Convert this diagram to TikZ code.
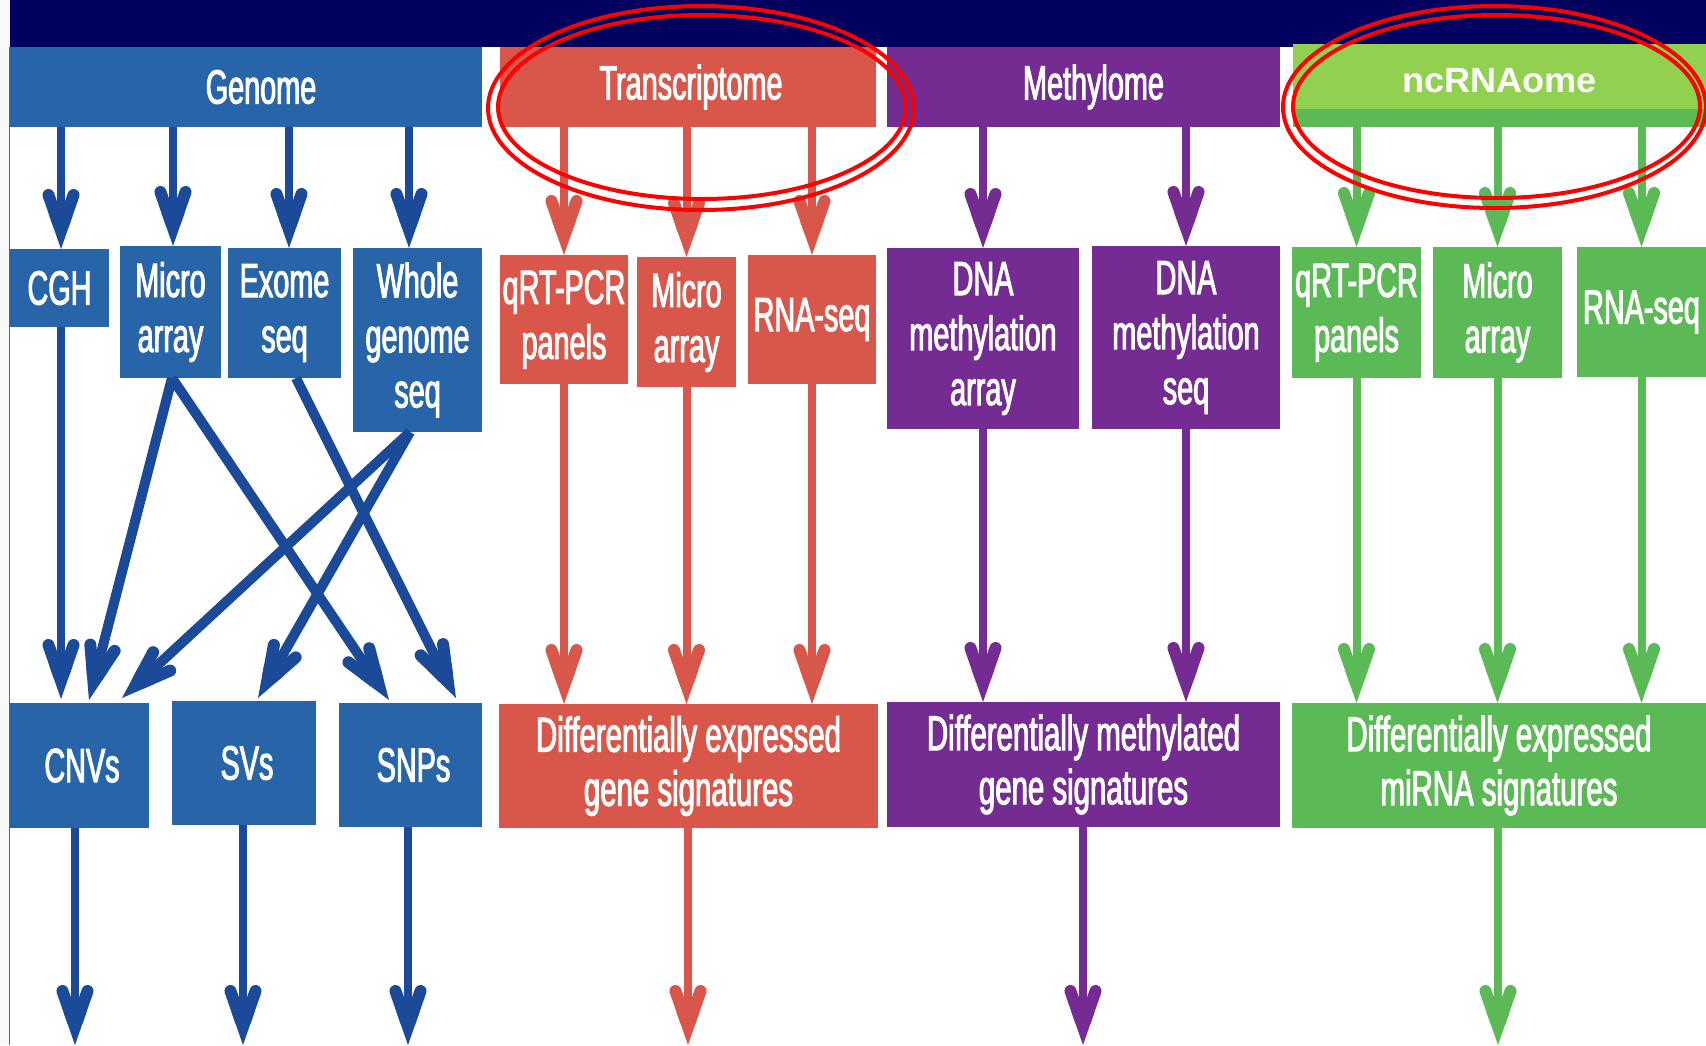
\documentclass[tikz,border=0pt]{standalone}
\usepackage{fontspec}
\setmainfont{Liberation Sans}[FakeStretch=0.6,FakeBold=2]
\newfontfamily\widefont{Liberation Sans}[FakeStretch=1.03]
\usetikzlibrary{arrows.meta}
\definecolor{navy}{RGB}{0,0,94}
\definecolor{gblue}{RGB}{40,101,168}
\definecolor{ablue}{RGB}{27,74,152}
\definecolor{tred}{RGB}{216,87,74}
\definecolor{mpurp}{RGB}{116,44,146}
\definecolor{lgreen}{RGB}{146,208,80}
\definecolor{dgreen}{RGB}{92,186,86}
\definecolor{edgeline}{RGB}{90,90,200}
\pgfdeclarearrow{
  name = RefHead,
  setup code = {
    \pgfarrowssettipend{0pt}
    \pgfarrowssetlineend{-30pt}
    \pgfarrowssetvisualbackend{-40pt}
    \pgfarrowssetbackend{-60pt}
    \pgfarrowshullpoint{0pt}{0pt}
    \pgfarrowshullpoint{-60pt}{19pt}
    \pgfarrowshullpoint{-60pt}{-19pt}
  },
  drawing code = {
    \pgfpathmoveto{\pgfpointorigin}
    \pgfpathlineto{\pgfpoint{-33pt}{11.55pt}}
    \pgfpathlineto{\pgfpoint{-33pt}{-11.55pt}}
    \pgfpathclose
    \pgfusepathqfill
    \pgfsetlinewidth{12pt}
    \pgfsetroundcap
    \pgfpathmoveto{\pgfpoint{-24pt}{2.04pt}}
    \pgfpathlineto{\pgfpoint{-54pt}{12.54pt}}
    \pgfpathmoveto{\pgfpoint{-24pt}{-2.04pt}}
    \pgfpathlineto{\pgfpoint{-54pt}{-12.54pt}}
    \pgfusepathqstroke
  }
}
\tikzset{
  box/.style={draw=none, inner sep=0pt, outer sep=0pt, anchor=north west, text=white, align=center, font=\fontsize{48}{55}\selectfont},
  bot/.style={box, font=\fontsize{49}{54}\selectfont},
  conn/.style={line width=8pt, -{RefHead}},
  barr/.style={conn, ablue},
  bdiag/.style={conn, ablue, line width=10pt},
  rarr/.style={conn, tred},
  parr/.style={conn, mpurp},
  garr/.style={conn, dgreen},
  ring/.style={draw=red, line width=4pt}
}
\begin{document}
\begin{tikzpicture}[x=1pt,y=-1pt]
\useasboundingbox (0,0) rectangle (1706,1045);
\fill[white] (0,0) rectangle (1706,1045);
\fill[gray!5] (0,0) rectangle (9,1045);
\draw[edgeline, line width=1pt] (9.5,47) -- (9.5,1045);
\fill[navy] (10,0) rectangle (1706,47);

% headers
\node[box, fill=gblue, minimum width=472pt, minimum height=80pt] (genome) at (10,47) {\hspace*{30pt}Genome};
\node[box, fill=tred, minimum width=376pt, minimum height=80pt] (transc) at (500,47) {\hspace*{6pt}Transcriptome};
\node[box, fill=mpurp, minimum width=393pt, minimum height=80pt] (methyl) at (887,47) {\hspace*{20pt}Methylome};
\node[box, fill=lgreen, minimum width=413pt, minimum height=73pt, font=\widefont\bfseries\fontsize{35}{40}\selectfont] (ncrna) at (1293,44) {ncRNAome};
\node[box, fill=dgreen, minimum width=413pt, minimum height=18pt] (ncstrip) at (1293,109) {};

% middle boxes
\node[box, fill=gblue, minimum width=99pt, minimum height=78pt] (cgh) at (10,249) {CGH};
\node[box, fill=gblue, minimum width=101pt, minimum height=132pt] (bmicro) at (120,246) {Micro\\array};
\node[box, fill=gblue, minimum width=113pt, minimum height=130pt] (exome) at (228,248) {Exome\\seq};
\node[box, fill=gblue, minimum width=129pt, minimum height=184pt] (wgs) at (353,248) {Whole\\genome\\seq};
\node[box, fill=tred, minimum width=128pt, minimum height=129pt] (rqrt) at (500,255) {qRT-PCR\\panels};
\node[box, fill=tred, minimum width=99pt, minimum height=130pt] (rmicro) at (637,257) {Micro\\array};
\node[box, fill=tred, minimum width=128pt, minimum height=129pt] (rrna) at (748,255) {RNA-seq};
\node[box, fill=mpurp, minimum width=192pt, minimum height=181pt] (dnaarr) at (887,248) {DNA\\methylation\\array};
\node[box, fill=mpurp, minimum width=188pt, minimum height=183pt] (dnaseq) at (1092,246) {DNA\\methylation\\seq};
\node[box, fill=dgreen, minimum width=129pt, minimum height=131pt] (gqrt) at (1292,247) {qRT-PCR\\panels};
\node[box, fill=dgreen, minimum width=129pt, minimum height=131pt] (gmicro) at (1433,247) {Micro\\array};
\node[box, fill=dgreen, minimum width=129pt, minimum height=130pt] (grna) at (1577,247) {RNA-seq};

% bottom boxes
\node[box, fill=gblue, minimum width=139pt, minimum height=125pt] (cnvs) at (10,703) {\hspace*{5pt}CNVs};
\node[box, fill=gblue, minimum width=144pt, minimum height=124pt] (svs) at (172,701) {\hspace*{6pt}SVs};
\node[box, fill=gblue, minimum width=143pt, minimum height=124pt] (snps) at (339,703) {\hspace*{6pt}SNPs};
\node[bot, fill=tred, minimum width=379pt, minimum height=124pt] (degene) at (499,704) {Differentially expressed\\gene signatures};
\node[bot, fill=mpurp, minimum width=393pt, minimum height=125pt] (dmgene) at (887,702) {Differentially methylated\\gene signatures};
\node[bot, fill=dgreen, minimum width=414pt, minimum height=125pt] (demirna) at (1292,703) {Differentially expressed\\miRNA signatures};

% helper coordinates
\coordinate (gx1) at (61,0);
\coordinate (gx2) at (173,0);
\coordinate (gx3) at (289,0);
\coordinate (gx4) at (409,0);
\coordinate (b1) at (75,1045);
\coordinate (b2) at (243,1045);
\coordinate (b3) at (408,1045);
\coordinate (rb) at (688,1045);
\coordinate (pb) at (1083,1045);
\coordinate (gb) at (1498,1045);

% header -> middle
\draw[barr] (genome.south -| gx1) -- (cgh.north -| gx1);
\draw[barr] (genome.south -| gx2) -- (bmicro.north -| gx2);
\draw[barr] (genome.south -| gx3) -- (exome.north -| gx3);
\draw[barr] (genome.south -| gx4) -- (wgs.north -| gx4);
\draw[rarr] (transc.south -| rqrt.north) -- (rqrt.north);
\draw[rarr] (transc.south -| rmicro.north) -- (rmicro.north);
\draw[rarr] (transc.south -| rrna.north) -- (rrna.north);
\draw[parr] (methyl.south -| dnaarr.north) -- (dnaarr.north);
\draw[parr] (methyl.south -| dnaseq.north) -- (dnaseq.north);
\draw[garr] (ncstrip.south -| gqrt.north) -- (gqrt.north);
\draw[garr] (ncstrip.south -| gmicro.north) -- (gmicro.north);
\draw[garr] (ncstrip.south -| grna.north) -- (grna.north);

% middle -> bottom (genome)
\draw[barr] (cgh.south -| gx1) -- ([yshift=4pt]cnvs.north -| gx1);
\draw[bdiag] ([xshift=1.5pt]bmicro.south) -- ([xshift=9.5pt,yshift=3pt]cnvs.north);
\draw[bdiag] ([xshift=-7.5pt]wgs.south) -- ([xshift=42.5pt,yshift=5pt]cnvs.north);
\draw[bdiag] ([xshift=-7.5pt]wgs.south) -- ([xshift=14pt,yshift=3pt]svs.north);
\draw[bdiag] ([xshift=1.5pt]bmicro.south) -- ([xshift=-21.5pt,yshift=3pt]snps.north);
\draw[bdiag] ([xshift=11.5pt]exome.south) -- ([xshift=45.5pt,yshift=5pt]snps.north);

% middle -> bottom (others)
\draw[rarr] (rqrt.south) -- (rqrt.south |- degene.north);
\draw[rarr] (rmicro.south) -- (rmicro.south |- degene.north);
\draw[rarr] (rrna.south) -- (rrna.south |- degene.north);
\draw[parr] (dnaarr.south) -- (dnaarr.south |- dmgene.north);
\draw[parr] (dnaseq.south) -- (dnaseq.south |- dmgene.north);
\draw[garr] (gqrt.south) -- (gqrt.south |- demirna.north);
\draw[garr] (gmicro.south) -- (gmicro.south |- demirna.north);
\draw[garr] (grna.south) -- (grna.south |- demirna.north);

% bottom outgoing
\draw[barr] (cnvs.south -| b1) -- (b1);
\draw[barr] (svs.south -| b2) -- (b2);
\draw[barr] (snps.south -| b3) -- (b3);
\draw[rarr] (degene.south -| rb) -- (rb);
\draw[parr] (dmgene.south -| pb) -- (pb);
\draw[garr] (demirna.south -| gb) -- (gb);

% red double ellipses
\draw[ring] (701,108) ellipse [x radius=213pt, y radius=102pt];
\draw[ring] (702,107) ellipse [x radius=204pt, y radius=92pt];
\draw[ring] (1494.5,107) ellipse [x radius=211.5pt, y radius=101pt];
\draw[ring] (1496.5,106.5) ellipse [x radius=203.5pt, y radius=91.5pt];
\end{tikzpicture}
\end{document}
